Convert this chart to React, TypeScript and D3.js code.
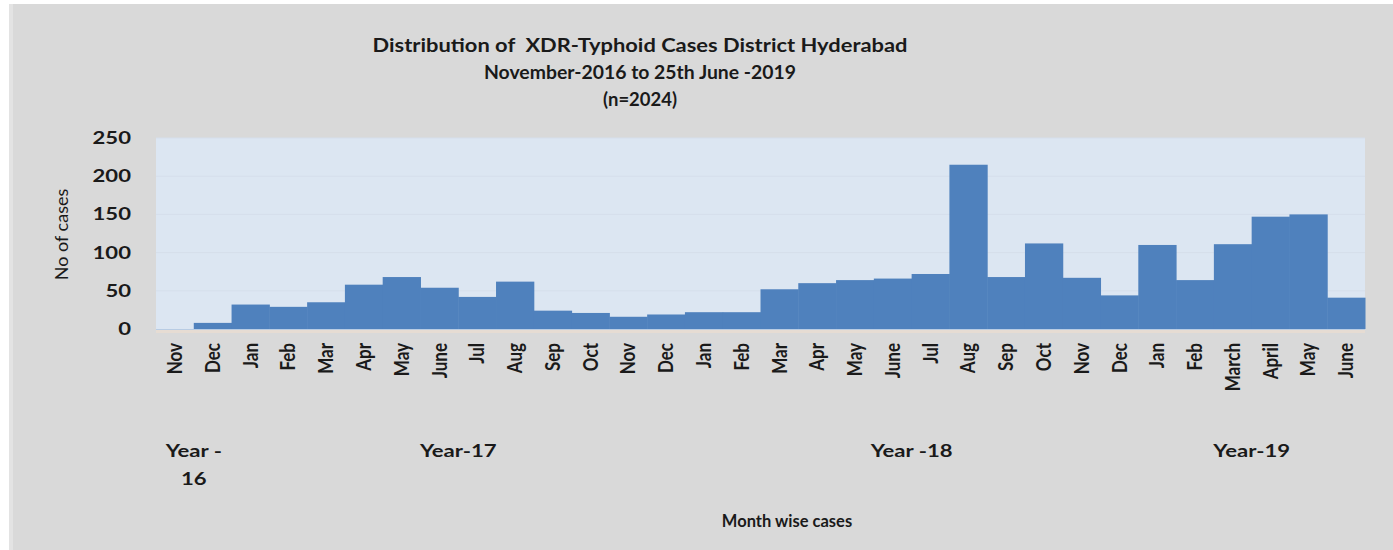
import React from "react";
import * as d3 from "d3";

// Monthly XDR-typhoid case counts, District Hyderabad, Nov 2016 – Jun 2019
const months = [
  "Nov", "Dec",
  "Jan", "Feb", "Mar", "Apr", "May", "June", "Jul", "Aug", "Sep", "Oct", "Nov", "Dec",
  "Jan", "Feb", "Mar", "Apr", "May", "June", "Jul", "Aug", "Sep", "Oct", "Nov", "Dec",
  "Jan", "Feb", "March", "April", "May", "June",
];
const cases = [
  0, 8,
  32, 29, 35, 58, 68, 54, 42, 62, 24, 21, 16, 19,
  22, 22, 52, 60, 64, 66, 72, 215, 68, 112, 67, 44,
  110, 64, 111, 147, 150, 41,
];
const yTicks = [0, 50, 100, 150, 200, 250];

// Year groups: label lines plus the first and last month index they cover
const yearLabels = [["Year -", "16"], ["Year-17"], ["Year -18"], ["Year-19"]];
const yearFirst = [0, 2, 14, 26];
const yearLast = [1, 13, 25, 31];

const titleLines = [
  "Distribution of\u00a0 XDR-Typhoid Cases District Hyderabad",
  "November-2016 to 25th June -2019",
  "(n=2024)",
];
const titleWidths = [535, 312, 74];

const W = 1393;
const H = 550;
const plot = { left: 156, right: 1365, top: 138, bottom: 329 };
const FONT = "Lato, 'Open Sans', sans-serif";
const INK = "#1a1a1a";

// Text drawn with a horizontal stretch about its anchor point
function Wide({
  x, y, sx, children, anchor = "middle", size, weight = 700,
}: {
  x: number; y: number; sx: number; children: React.ReactNode;
  anchor?: string; size: number; weight?: number;
}) {
  return (
    <text
      transform={`translate(${x},${y}) scale(${sx},1)`}
      textAnchor={anchor}
      fontFamily={FONT}
      fontWeight={weight}
      fontSize={size}
      fill={INK}
    >
      {children}
    </text>
  );
}

export default function App() {
  const x = d3
    .scaleBand<number>()
    .domain(d3.range(months.length))
    .range([plot.left, plot.right])
    .padding(0);
  const y = d3.scaleLinear().domain([0, 250]).range([plot.bottom, plot.top]);
  const bw = x.bandwidth();

  return (
    <svg
      width={W}
      height={H}
      style={{ position: "absolute", left: 0, top: 0, background: "#ffffff" }}
    >
      {/* chart area */}
      <rect x={9} y={4} width={W - 9} height={H - 4} fill="#d9d9d9" />
      <rect x={9} y={4} width={4} height={H - 4} fill="#e3e3e3" />

      {/* title */}
      {titleLines.map((t, i) => (
        <text
          key={i}
          x={640}
          y={52 + i * 27}
          textAnchor="middle"
          textLength={titleWidths[i]}
          lengthAdjust="spacingAndGlyphs"
          fontFamily={FONT}
          fontWeight={700}
          fontSize={19}
          fill={INK}
        >
          {t}
        </text>
      ))}

      {/* plot background and gridlines */}
      <rect
        x={plot.left}
        y={plot.top}
        width={plot.right - plot.left}
        height={plot.bottom - plot.top}
        fill="#dce6f2"
      />
      {yTicks.slice(1).map((t) => (
        <line
          key={t}
          x1={plot.left}
          x2={plot.right}
          y1={y(t)}
          y2={y(t)}
          stroke="#d5deeb"
          strokeWidth={1}
        />
      ))}
      <rect
        x={plot.left}
        y={plot.bottom}
        width={plot.right - plot.left}
        height={4}
        fill="#e6dcd3"
      />

      {/* bars */}
      {cases.map((v, i) => (
        <rect
          key={i}
          x={x(i)!}
          y={y(v)}
          width={bw + 0.5}
          height={y(0) - y(v)}
          fill="#4f81bd"
        />
      ))}
      <line
        x1={plot.left}
        x2={plot.right}
        y1={plot.bottom + 0.5}
        y2={plot.bottom + 0.5}
        stroke="#b8cce4"
        strokeWidth={1}
      />

      {/* y axis */}
      {yTicks.map((t) => (
        <Wide key={t} x={131} y={y(t) + 6} sx={1.3} size={17} anchor="end">
          {t}
        </Wide>
      ))}
      <text
        transform={`translate(68, ${(plot.top + plot.bottom) / 2 + 1}) rotate(-90)`}
        textAnchor="middle"
        fontFamily={FONT}
        fontSize={18}
        fill={INK}
      >
        No of cases
      </text>

      {/* month labels */}
      {months.map((m, i) => (
        <text
          key={i}
          transform={`translate(${x(i)! + bw / 2}, 343) rotate(-90) scale(1,1.2)`}
          textAnchor="end"
          dy="0.35em"
          fontFamily={FONT}
          fontWeight={700}
          fontSize={17}
          fill={INK}
        >
          {m}
        </text>
      ))}

      {/* year labels, centred under the months each year covers */}
      {yearLabels.map((lines, gi) => {
        const cx = (x(yearFirst[gi])! + x(yearLast[gi])! + bw) / 2;
        return lines.map((l, li) => (
          <Wide key={`${gi}-${li}`} x={cx} y={457 + li * 28} sx={1.3} size={17}>
            {l}
          </Wide>
        ));
      })}

      {/* x axis title */}
      <Wide x={787} y={527} sx={1.0} size={16.5}>
        Month wise cases
      </Wide>
    </svg>
  );
}
